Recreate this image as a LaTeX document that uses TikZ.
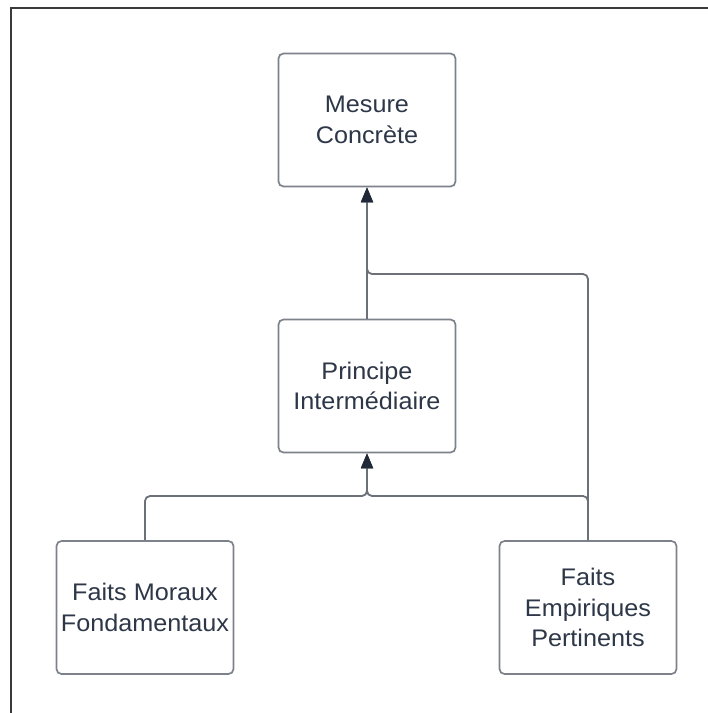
\documentclass[tikz,border=0pt]{standalone}
\usepackage{fontspec}
\setmainfont{Liberation Sans}[FakeStretch=1.05]
\usetikzlibrary{arrows.meta}
\definecolor{framecol}{HTML}{3A3A3A}
\definecolor{boxcol}{HTML}{7D828A}
\definecolor{linkcol}{HTML}{6B7079}
\definecolor{tipcol}{HTML}{1F2937}
\definecolor{textcol}{HTML}{2D3748}
\tikzset{
  block/.style={draw=boxcol, line width=1.7pt, rounded corners=5pt, fill=white,
    minimum width=177pt, minimum height=133pt, inner sep=0pt, align=center,
    text=textcol, font=\fontsize{24}{30.5}\selectfont},
  link/.style={draw=linkcol, line width=1.8pt, rounded corners=5pt,
    -{Triangle[length=15pt,width=12pt,fill=tipcol,color=tipcol]}},
}
\begin{document}
\begin{tikzpicture}[x=1pt,y=-1pt]
  \useasboundingbox (0,0) rectangle (708,713);
  % outer frame (left and top edges)
  \draw[framecol, line width=2pt] (11,713) -- (11,8) -- (708,8);

  \node[block] (mesure)    at (367,120)   {Mesure\\Concrète};
  \node[block] (principe)  at (367,386)   {Principe\\Intermédiaire};
  \node[block] (moraux)    at (145,607.5) {Faits Moraux\\Fondamentaux};
  \node[block] (empiriques) at (588,607.5) {Faits\\Empiriques\\Pertinents};

  % connectors
  \draw[link] (principe.north) -- (mesure.south);
  \draw[link] (empiriques.north) -- (588,274) -- (367,274) -- (mesure.south);
  \draw[link] (moraux.north) -- (145,496) -- (367,496) -- (principe.south);
  \draw[link] (empiriques.north) -- (588,496) -- (367,496) -- (principe.south);
\end{tikzpicture}
\end{document}
